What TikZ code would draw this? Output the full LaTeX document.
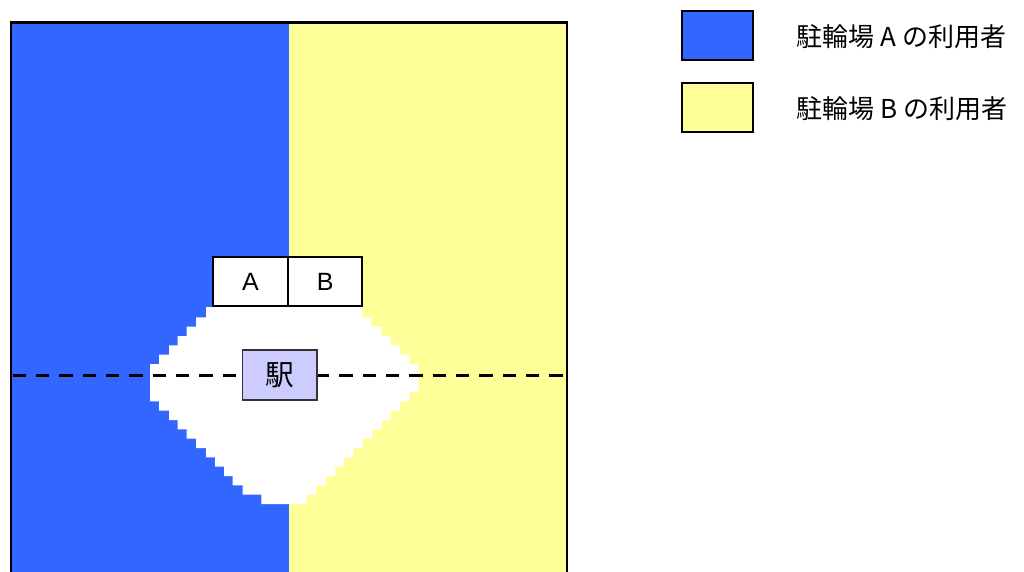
\documentclass[tikz,border=0pt]{standalone}
\usepackage{fontspec}
\setmainfont{Liberation Sans}
\newfontfamily\jp{Noto Sans CJK JP}
\definecolor{ublue}{HTML}{3366FF}
\definecolor{uyellow}{HTML}{FFFF99}
\definecolor{ustation}{HTML}{CCCCFF}
\tikzset{
  areabox/.style={draw=black, line width=1.4pt, fill=white, minimum width=55.8pt, minimum height=37pt, inner sep=0pt, font=\fontsize{18.75}{20}\selectfont},
  stationbox/.style={draw=black!80, line width=1.2pt, fill=ustation, minimum width=55.8pt, minimum height=37.5pt, inner sep=0pt, font=\jp\fontsize{21.5}{24}\selectfont},
  legendbox/.style={draw=black, line width=1.5pt, minimum width=53.25pt, minimum height=36.75pt, inner sep=0pt},
  legendtext/.style={anchor=west, inner sep=0pt, font=\jp\fontsize{19.5}{22}\selectfont},
  frameline/.style={draw=black, line width=1.9pt},
  dashline/.style={draw=black, line width=2.3pt, dash pattern=on 10pt off 7.5pt, dash phase=-1.2pt}
}
\begin{document}
\begin{tikzpicture}[x=0.75pt,y=-0.75pt]
\useasboundingbox (0,0) rectangle (1024,571);
\clip (0,0) rectangle (1024,571);
% areas
\fill[ublue] (11,22.5) rectangle (289,600);
\fill[uyellow] (289,22.5) rectangle (567,600);
% white station zone
\fill[white] (206,307) -- (362.7,307) -- (362.7,317.3) -- (371,317.3) -- (371,326.7) -- (381.7,326.7) -- (381.7,336) -- (390.7,336) -- (390.7,345.3) -- (400,345.3) -- (400,354.7) -- (409.3,354.7) -- (409.3,364) -- (418.7,364) -- (418.7,392) -- (409.3,392) -- (409.3,401.3) -- (400,401.3) -- (400,410.7) -- (390.7,410.7) -- (390.7,420) -- (381.7,420) -- (381.7,429.3) -- (372.3,429.3) -- (372.3,438.7) -- (362.7,438.7) -- (362.7,448) -- (353.3,448) -- (353.3,457.3) -- (344,457.3) -- (344,466.7) -- (335,466.7) -- (335,476) -- (325.7,476) -- (325.7,485.3) -- (316,485.3) -- (316,494.7) -- (306.7,494.7) -- (306.7,504) -- (261.3,504) -- (261.3,494.7) -- (242.7,494.7) -- (242.7,485.3) -- (232.7,485.3) -- (232.7,476) -- (224,476) -- (224,466.7) -- (215,466.7) -- (215,457.3) -- (206,457.3) -- (206,448) -- (196,448) -- (196,438.7) -- (186.7,438.7) -- (186.7,429.3) -- (177.7,429.3) -- (177.7,420) -- (169,420) -- (169,410.7) -- (159,410.7) -- (159,401.3) -- (150,401.3) -- (150,364) -- (159,364) -- (159,354.7) -- (169,354.7) -- (169,345.3) -- (177.7,345.3) -- (177.7,336) -- (186.7,336) -- (186.7,326.7) -- (196,326.7) -- (196,317.3) -- (206,317.3) -- cycle;
% frame
\draw[frameline] (11,600) -- (11,22.5) -- (567,22.5) -- (567,600);
% dashed line
\coordinate (L) at (11,375.7);
\coordinate (R) at (567,375.7);
\draw[dashline] (L) -- (R);
% boxes
\node[areabox] (A) at (250.5,281.5) {A};
\node[areabox] (B) at (325.2,281.5) {B};
\node[stationbox] (S) at (279.5,375) {駅};
% legend
\node[legendbox, fill=ublue] (LA) at (717.2,35.5) {};
\node[legendbox, fill=uyellow] (LB) at (717.2,107.2) {};
\node[legendtext] (TA) at (796.5,36.7) {駐輪場 A の利用者};
\node[legendtext] (TB) at (796.5,108.7) {駐輪場 B の利用者};
\end{tikzpicture}
\end{document}
